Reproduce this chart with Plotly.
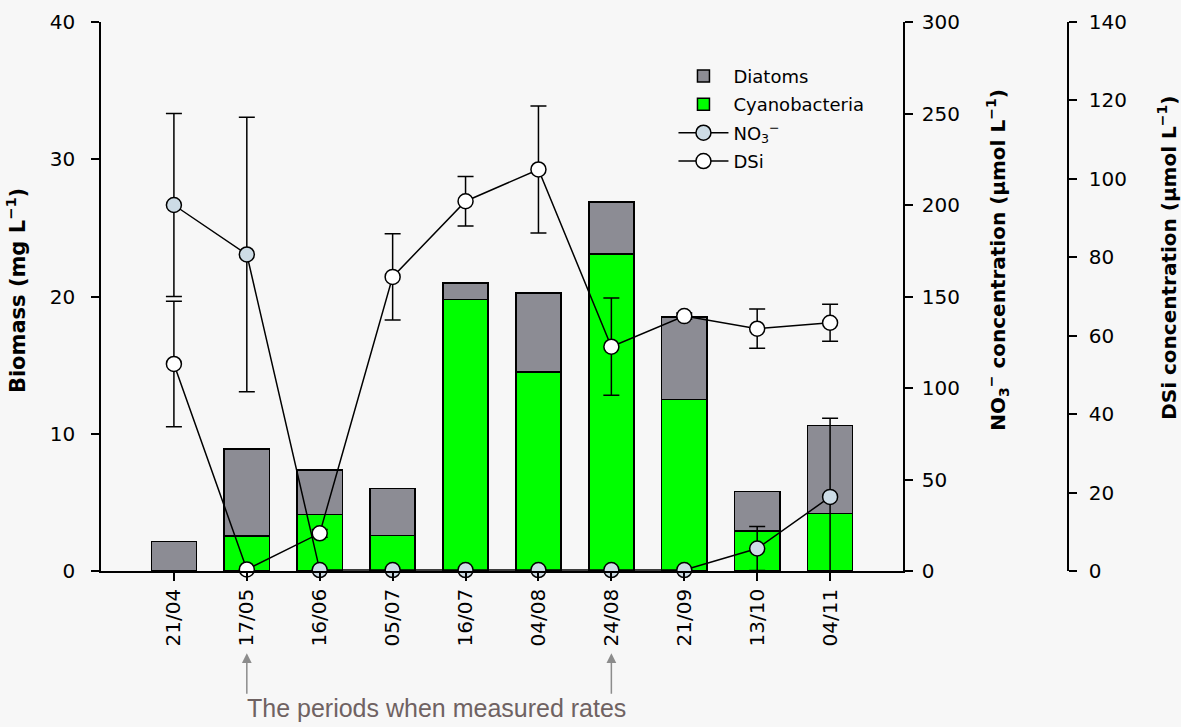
import plotly.graph_objects as go

dates = ["21/04", "17/05", "16/06", "05/07", "16/07", "04/08", "24/08", "21/09", "13/10", "04/11"]
cyanobacteria = [0, 2.55, 4.1, 2.6, 19.8, 14.5, 23.1, 12.5, 2.9, 4.2]
diatoms = [2.15, 6.35, 3.25, 3.4, 1.2, 5.75, 3.8, 6.0, 2.9, 6.4]
no3 = [200, 173, 0.5, 0.5, 0.5, 0.5, 0.5, 0.5, 12.3, 40.5]
no3_err = [50, 75, 0, 0, 0, 0, 0, 0, 12, 43]
dsi = [52.8, 0.4, 9.6, 75, 94.3, 102.4, 57.2, 65, 61.8, 63.3]
dsi_err = [16, 0, 1, 11, 6.3, 16.2, 12.4, 0.8, 5, 4.7]
arrow_dates = ["17/05", "24/08"]

BG = "#f7f7f7"
FONT = "DejaVu Sans"

# plot area geometry (pixels)
L, R3, T, B = 101, 1068, 10, 571
PW, PH = R3 - L, B - T


def px_x(p):
    return (p - L) / PW


def px_y(p):
    return (B - p) / PH


fig = go.Figure()
fig.add_trace(go.Bar(x=dates, y=cyanobacteria, name="Cyanobacteria", width=0.62,
                     marker=dict(color="#00ff00", line=dict(color="black", width=1.5)),
                     legendrank=2, legendgroup="b"))
fig.add_trace(go.Bar(x=dates, y=diatoms, name="Diatoms", width=0.62,
                     marker=dict(color="#8c8c94", line=dict(color="black", width=1.5)),
                     legendrank=1, legendgroup="a"))
fig.add_trace(go.Scatter(x=dates, y=no3, name="NO<sub>3</sub><sup>−</sup>", yaxis="y2",
                         mode="lines+markers", cliponaxis=False,
                         line=dict(color="black", width=1.5),
                         marker=dict(size=15, color="#cddce6", line=dict(color="black", width=1.5)),
                         error_y=dict(type="data", array=no3_err, color="black", thickness=1.5, width=8),
                         legendrank=3, legendgroup="c"))
fig.add_trace(go.Scatter(x=dates, y=dsi, name="DSi", yaxis="y3",
                         mode="lines+markers", cliponaxis=False,
                         line=dict(color="black", width=1.5),
                         marker=dict(size=15, color="white", line=dict(color="black", width=1.5)),
                         error_y=dict(type="data", array=dsi_err, color="black", thickness=1.5, width=8),
                         legendrank=4, legendgroup="d"))

axis_common = dict(showgrid=False, zeroline=False, showline=True, linecolor="black", linewidth=1.5,
                   ticks="outside", ticklen=8, tickwidth=1.5, tickcolor="black",
                   tickfont=dict(family=FONT, size=20, color="black"))

fig.update_layout(
    width=1181, height=727,
    paper_bgcolor=BG, plot_bgcolor=BG,
    margin=dict(l=L, r=1181 - R3, t=T, b=727 - B),
    barmode="stack",
    font=dict(family=FONT, color="black"),
    showlegend=True,
    legend=dict(x=0.592, y=0.935, xanchor="left", yanchor="top", bgcolor="rgba(0,0,0,0)",
                font=dict(family=FONT, size=18, color="black"), tracegroupgap=2, itemwidth=50),
    xaxis=dict(domain=[0, (903 - L) / PW], type="category", range=[-1, 10],
               tickangle=-90, **axis_common),
    yaxis=dict(range=[0, 40], tickvals=[0, 10, 20, 30, 40], ticklabeloverflow="allow",
               ticklabelstandoff=12, **axis_common),
    yaxis2=dict(range=[0, 300], tickvals=[0, 50, 100, 150, 200, 250, 300], overlaying="y", side="right",
                anchor="x", ticklabeloverflow="allow", ticklabelstandoff=5, **axis_common),
    yaxis3=dict(range=[0, 140], tickvals=[0, 20, 40, 60, 80, 100, 120, 140], overlaying="y", side="right",
                anchor="free", position=1.0, ticklabeloverflow="allow", ticklabelstandoff=8,
                **axis_common),
)

# axis titles
titles = [
    ("Biomass (mg L<sup>−1</sup>)", 16, 285, 21),
    ("NO<sub>3</sub><sup>−</sup> concentration (μmol L<sup>−1</sup>)", 998, 253, 20),
    ("DSi concentration (μmol L<sup>−1</sup>)", 1167, 251, 20),
]
for txt, xp, yp, sz in titles:
    fig.add_annotation(x=px_x(xp), y=px_y(yp), xref="paper", yref="paper", text=txt, textangle=-90,
                       showarrow=False, xanchor="center", yanchor="middle",
                       font=dict(family=FONT, size=sz, color="black", weight="bold"))

for d in arrow_dates:
    fig.add_annotation(x=d, xref="x", y=px_y(655), yref="paper", ax=0, ay=42, axref="pixel", ayref="pixel",
                       text="", showarrow=True, arrowhead=2, arrowsize=1.3, arrowwidth=1.5, arrowcolor="#8c8c8c")

fig.add_annotation(x=px_x(436), y=px_y(711), xref="paper", yref="paper", showarrow=False,
                   text="The periods when measured rates", xanchor="center", yanchor="middle",
                   font=dict(family="Liberation Sans Narrow, Liberation Sans", size=25, color="#6f6262"))

fig.write_html("out.html", config={"displayModeBar": False},
               post_script="document.body.style.margin='0';document.body.style.background='#f7f7f7';")
